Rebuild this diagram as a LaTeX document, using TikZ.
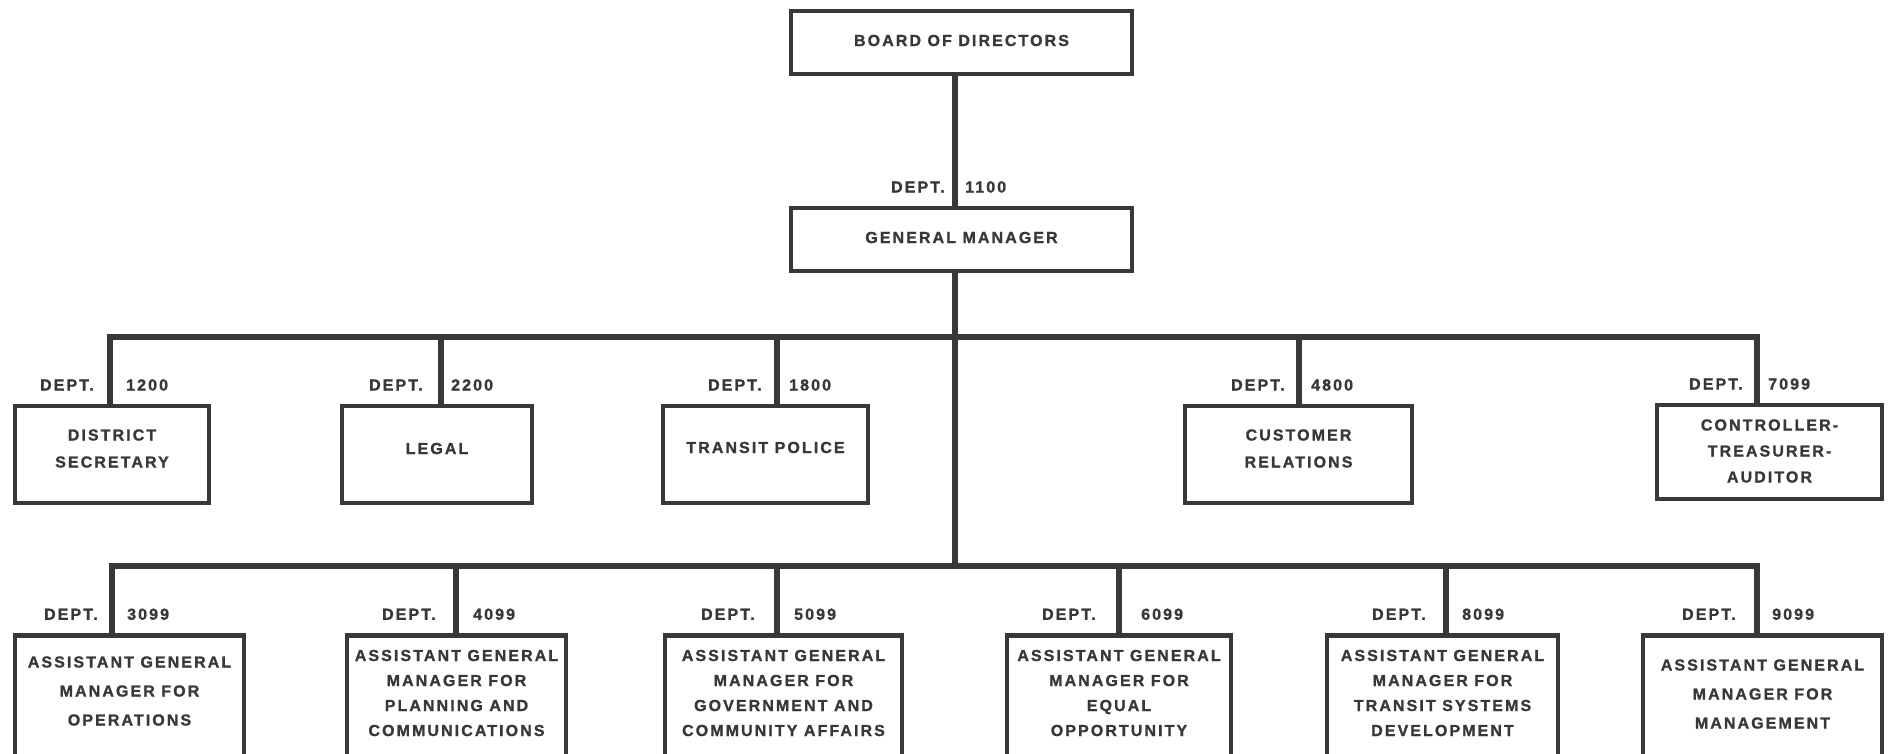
\documentclass[tikz,border=0pt]{standalone}
\usepackage{fontspec}
\newfontfamily\orgfont{Liberation Sans}[LetterSpace=13, BoldFeatures={FakeBold=1.2}]
\definecolor{ink}{HTML}{383838}
\begin{document}
\begin{tikzpicture}[x=1pt,y=-1pt,
  unitbox/.style={draw=ink, line width=4.5pt, rectangle, inner sep=0pt},
  conn/.style={draw=ink, line width=6pt},
  boxtext/.style={text=ink, align=center, inner sep=0pt,
    font=\orgfont\bfseries\fontsize{16}{27}\selectfont},
  deptlbl/.style={text=ink, inner sep=0pt, text height=11.5pt, text depth=0pt,
    font=\orgfont\bfseries\fontsize{16}{19}\selectfont}]
\useasboundingbox (0,0) rectangle (1890,753);
\clip (0,0) rectangle (1890,753);

% department number labels either side of a drop line:
% #1 name, #2 drop point, #3 number, #4 left gap, #5 right gap
\newcommand{\deptlabel}[5]{%
  \node[deptlbl, anchor=east] (#1-d) at ([xshift=-#4pt,yshift=19pt]#2) {DEPT.};
  \node[deptlbl, anchor=west] (#1-n) at ([xshift=#5pt,yshift=19pt]#2) {#3};}

% top of the chart
\node[unitbox, minimum width=341pt, minimum height=63pt] (board) at (961.5,42.5) {};
\node[boxtext, yshift=2pt] (board-t) at (board.center) {BOARD OF DIRECTORS};
\node[unitbox, minimum width=341pt, minimum height=63pt] (gm) at (961.5,239.5) {};
\node[boxtext, yshift=2pt] (gm-t) at (gm.center) {GENERAL MANAGER};

% staff departments
\node[unitbox, minimum width=194pt, minimum height=97pt] (ds) at (112,454.5) {};
\node[unitbox, minimum width=190pt, minimum height=97pt] (lg) at (437,454.5) {};
\node[unitbox, minimum width=205pt, minimum height=97pt] (tp) at (765.5,454.5) {};
\node[unitbox, minimum width=227pt, minimum height=97pt] (cr) at (1298.5,454.5) {};
\node[unitbox, minimum width=225pt, minimum height=94pt] (ct) at (1769.5,452) {};
\node[boxtext, yshift=6pt] (ds-t) at (ds.center) {DISTRICT\\SECRETARY};
\node[boxtext, yshift=6pt] (lg-t) at (lg.center) {LEGAL};
\node[boxtext, yshift=7pt] (tp-t) at (tp.center) {TRANSIT POLICE};
\node[boxtext, yshift=6pt] (cr-t) at (cr.center) {CUSTOMER\\RELATIONS};
\node[boxtext, yshift=1pt, font=\orgfont\bfseries\fontsize{16}{26}\selectfont] (ct-t) at (ct.center) {CONTROLLER-\\TREASURER-\\AUDITOR};

% assistant general managers (boxes run off the lower edge)
\node[unitbox, minimum width=229pt, minimum height=140pt, anchor=north] (a1) at (129.5,633) {};
\node[unitbox, minimum width=219pt, minimum height=140pt, anchor=north] (a2) at (456.5,633) {};
\node[unitbox, minimum width=237pt, minimum height=140pt, anchor=north] (a3) at (783.5,633) {};
\node[unitbox, minimum width=224pt, minimum height=140pt, anchor=north] (a4) at (1119,633) {};
\node[unitbox, minimum width=231pt, minimum height=140pt, anchor=north] (a5) at (1442.5,633) {};
\node[unitbox, minimum width=239pt, minimum height=140pt, anchor=north] (a6) at (1762.5,633) {};
\node[boxtext, yshift=-58pt, font=\orgfont\bfseries\fontsize{16}{29}\selectfont] (a1-t) at (a1.north) {ASSISTANT GENERAL\\MANAGER FOR\\OPERATIONS};
\node[boxtext, yshift=-60pt, font=\orgfont\bfseries\fontsize{16}{25}\selectfont] (a2-t) at (a2.north) {ASSISTANT GENERAL\\MANAGER FOR\\PLANNING AND\\COMMUNICATIONS};
\node[boxtext, yshift=-60pt, font=\orgfont\bfseries\fontsize{16}{25}\selectfont] (a3-t) at (a3.north) {ASSISTANT GENERAL\\MANAGER FOR\\GOVERNMENT AND\\COMMUNITY AFFAIRS};
\node[boxtext, yshift=-60pt, font=\orgfont\bfseries\fontsize{16}{25}\selectfont] (a4-t) at (a4.north) {ASSISTANT GENERAL\\MANAGER FOR\\EQUAL\\OPPORTUNITY};
\node[boxtext, yshift=-60pt, font=\orgfont\bfseries\fontsize{16}{25}\selectfont] (a5-t) at (a5.north) {ASSISTANT GENERAL\\MANAGER FOR\\TRANSIT SYSTEMS\\DEVELOPMENT};
\node[boxtext, yshift=-61pt, font=\orgfont\bfseries\fontsize{16}{29}\selectfont] (a6-t) at (a6.north) {ASSISTANT GENERAL\\MANAGER FOR\\MANAGEMENT};

% trunk and the two distribution bars
\coordinate (bus1) at (955,337);
\coordinate (bus2) at (955,566);
\coordinate (gm-in) at (gm.north -| bus1);
\draw[conn] (board.south -| bus1) -- (gm-in);
\draw[conn] (gm.south -| bus1) -- (bus2);

% drop points on the unit boxes
\path (ds.north) ++(-2,0) coordinate (ds-in);
\path (lg.north) ++(4,0) coordinate (lg-in);
\path (tp.north) ++(11.5,0) coordinate (tp-in);
\path (cr.north) ++(0.5,0) coordinate (cr-in);
\path (ct.north) ++(-12.5,0) coordinate (ct-in);
\path (a1.north) ++(-17.5,0) coordinate (a1-in);
\path (a2.north) ++(-0.5,0) coordinate (a2-in);
\path (a3.north) ++(-6.5,0) coordinate (a3-in);
\path (a4.north) ++(0,0) coordinate (a4-in);
\path (a5.north) ++(3.5,0) coordinate (a5-in);
\path (a6.north) ++(-5.5,0) coordinate (a6-in);

\draw[conn] (ds-in) |- (bus1) -| (ct-in);
\draw[conn] (bus1 -| lg-in) -- (lg-in);
\draw[conn] (bus1 -| tp-in) -- (tp-in);
\draw[conn] (bus1 -| cr-in) -- (cr-in);

\draw[conn] (a1-in) |- (bus2) -| (a6-in);
\draw[conn] (bus2 -| a2-in) -- (a2-in);
\draw[conn] (bus2 -| a3-in) -- (a3-in);
\draw[conn] (bus2 -| a4-in) -- (a4-in);
\draw[conn] (bus2 -| a5-in) -- (a5-in);

% department numbers
\deptlabel{gm}{gm-in}{1100}{10}{10}
\deptlabel{ds}{ds-in}{1200}{16}{16}
\deptlabel{lg}{lg-in}{2200}{18}{10}
\deptlabel{tp}{tp-in}{1800}{15}{12}
\deptlabel{cr}{cr-in}{4800}{14}{12}
\deptlabel{ct}{ct-in}{7099}{14}{11}
\deptlabel{a1}{a1-in}{3099}{14}{15}
\deptlabel{a2}{a2-in}{4099}{20}{17}
\deptlabel{a3}{a3-in}{5099}{22}{17}
\deptlabel{a4}{a4-in}{6099}{23}{22}
\deptlabel{a5}{a5-in}{8099}{20}{16}
\deptlabel{a6}{a6-in}{9099}{21}{15}
\end{tikzpicture}
\end{document}
